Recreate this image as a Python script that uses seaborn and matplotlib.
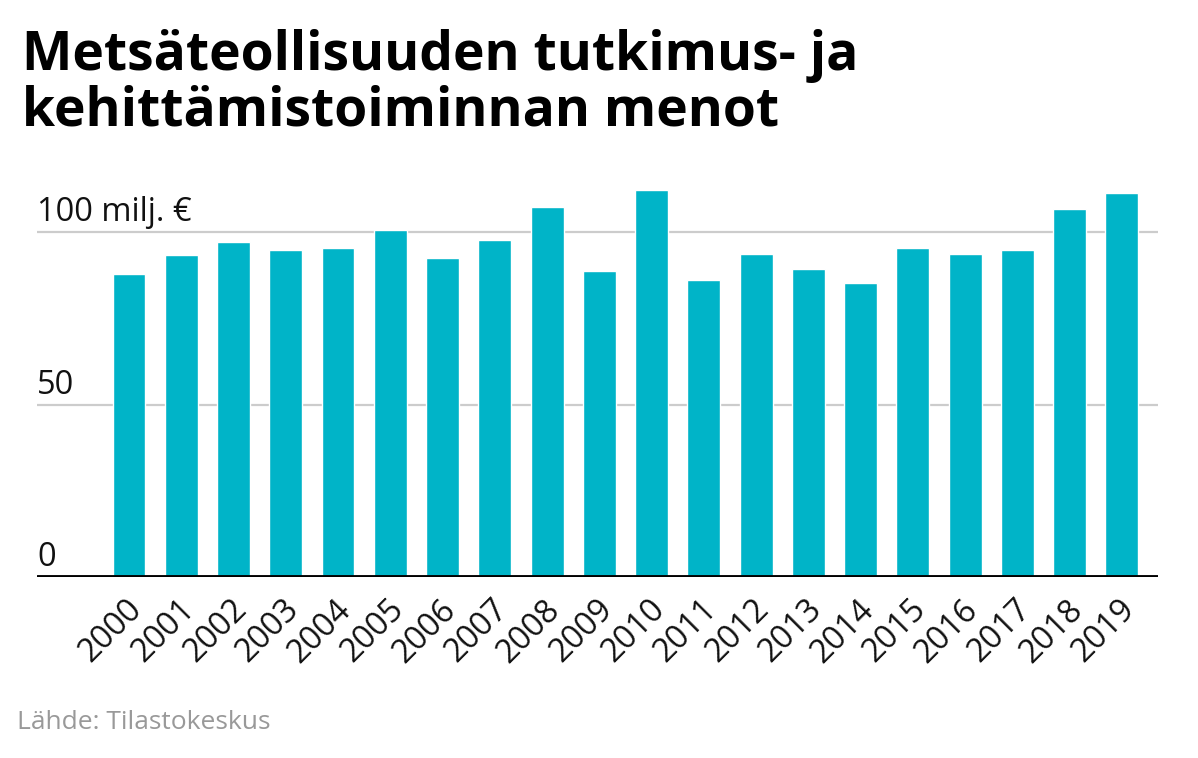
import matplotlib
matplotlib.use("Agg")
import matplotlib.pyplot as plt
import matplotlib.transforms as mtransforms
import seaborn as sns
import pandas as pd

# -------- data --------
years = [str(y) for y in range(2000, 2020)]
spending = [87.9, 93.3, 97.2, 95.0, 95.6, 100.6, 92.7, 97.8, 107.3, 88.9,
            112.4, 86.1, 93.8, 89.4, 85.4, 95.6, 93.8, 95.0, 106.7, 111.3]
ytick_values = [0, 50, 100]
ytick_labels = ["0", "50", "100 milj. €"]

title = "Metsäteollisuuden tutkimus- ja\nkehittämistoiminnan menot"
source = "Lähde: Tilastokeskus"

df = pd.DataFrame({"year": years, "value": spending})

# -------- style --------
sns.set_style("white")
plt.rcParams["font.family"] = ["Open Sans", "DejaVu Sans"]

fig = plt.figure(figsize=(11.98, 7.58), dpi=100)
ax = fig.add_axes([0.0309, 0.2388, 0.9357, 0.5228])

sns.barplot(data=df, x="year", y="value", color="#00b4c8",
            width=0.63, saturation=1, ax=ax, zorder=2)

ax.set_xlim(-1.76, 19.69)
ax.set_ylim(0, 115)

# gridlines
for v in ytick_values[1:]:
    ax.axhline(v, color="#cccccc", lw=1.6, zorder=1)
ax.axhline(0, color="black", lw=3.5, zorder=3)

# y labels sit just above their lines
trans = mtransforms.blended_transform_factory(ax.transAxes, ax.transData)
offset = mtransforms.ScaledTranslation(0, 8 / 72, fig.dpi_scale_trans)
for v, lab in zip(ytick_values, ytick_labels):
    ax.text(0.0, v, lab, transform=trans + offset, ha="left", va="baseline",
            fontsize=23.5, color="#111111")
ax.set_yticks([])

ax.set_xlabel("")
ax.set_ylabel("")
ax.tick_params(axis="x", length=0, pad=16, labelsize=23.5, labelcolor="#111111")
shift = mtransforms.ScaledTranslation(6 / 72, -4 / 72, fig.dpi_scale_trans)
for lab in ax.get_xticklabels():
    lab.set_rotation(45)
    lab.set_ha("right")
    lab.set_va("center")
    lab.set_rotation_mode("anchor")
    lab.set_transform(lab.get_transform() + shift)

sns.despine(ax=ax, left=True, bottom=True)

fig.text(22 / 1198, 1 - 126 / 758, title, ha="left", va="baseline",
         fontsize=38.5, fontweight="bold", color="black", linespacing=1.06)
fig.text(17 / 1198, 1 - 729 / 758, source, ha="left", va="baseline",
         fontsize=19, color="#999999")

fig.savefig("out.png", dpi=100)
